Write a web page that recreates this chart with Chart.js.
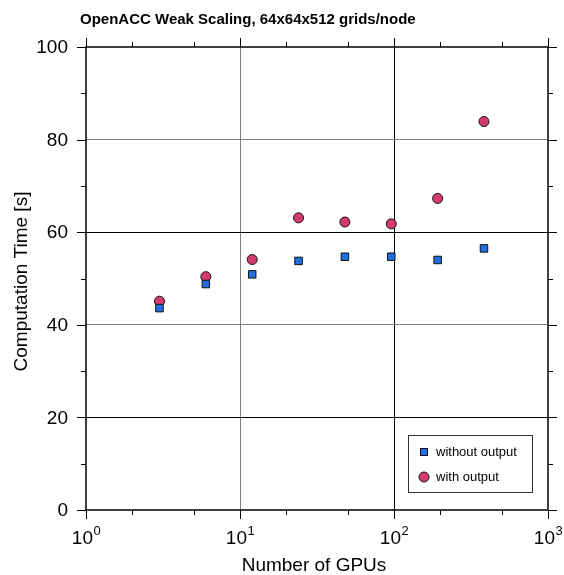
<!DOCTYPE html>
<html>
<head>
<meta charset="utf-8">
<script src="https://cdn.jsdelivr.net/npm/chart.js@4"></script>
<style>
  html, body { margin: 0; padding: 0; background: #fff; }
  #wrap { width: 564px; height: 575px; }
</style>
</head>
<body>
<div id="wrap"><canvas id="chart" width="564" height="575"></canvas></div>
<script>
'use strict';

const titleText = 'OpenACC Weak Scaling, 64x64x512 grids/node';
const xTitle = 'Number of GPUs';
const yTitle = 'Computation Time [s]';

const gpus = [3, 6, 12, 24, 48, 96, 192, 384];
const withoutOutput = [43.6, 48.8, 50.9, 53.8, 54.7, 54.7, 54.0, 56.5];
const withOutput = [45.1, 50.4, 54.1, 63.1, 62.2, 61.8, 67.3, 83.9];

const xMajor = [1, 10, 100, 1000];
const xExp = ['0', '1', '2', '3'];
const xMinor = [2, 5, 20, 50, 200, 500];
const yMajor = [0, 20, 40, 60, 80, 100];
const yMinor = [10, 30, 50, 70, 90];

const FONT = '"Liberation Sans", Arial, Helvetica, sans-serif';

// Rahmen, Ticks, Achsenbeschriftungen selbst zeichnen
const framePlugin = {
  id: 'frame',
  afterDraw(chart) {
    const { ctx, chartArea: a, scales: { x, y } } = chart;
    ctx.save();
    ctx.strokeStyle = '#000';
    ctx.lineWidth = 1.5;
    ctx.strokeRect(a.left, a.top, a.right - a.left, a.bottom - a.top);

    ctx.lineWidth = 1;
    ctx.beginPath();
    xMajor.forEach(v => {
      const px = Math.round(x.getPixelForValue(v)) + 0.5;
      ctx.moveTo(px, a.bottom); ctx.lineTo(px, a.bottom + 9);
      ctx.moveTo(px, a.top); ctx.lineTo(px, a.top - 9);
    });
    xMinor.forEach(v => {
      const px = Math.round(x.getPixelForValue(v)) + 0.5;
      ctx.moveTo(px, a.bottom); ctx.lineTo(px, a.bottom + 5);
      ctx.moveTo(px, a.top); ctx.lineTo(px, a.top - 5);
    });
    yMajor.forEach(v => {
      const py = Math.round(y.getPixelForValue(v)) + 0.5;
      ctx.moveTo(a.left, py); ctx.lineTo(a.left - 9, py);
      ctx.moveTo(a.right, py); ctx.lineTo(a.right + 9, py);
    });
    yMinor.forEach(v => {
      const py = Math.round(y.getPixelForValue(v)) + 0.5;
      ctx.moveTo(a.left, py); ctx.lineTo(a.left - 5, py);
      ctx.moveTo(a.right, py); ctx.lineTo(a.right + 5, py);
    });
    ctx.stroke();

    ctx.fillStyle = '#000';
    // y-Ticklabels
    ctx.font = '19px ' + FONT;
    ctx.textAlign = 'right';
    ctx.textBaseline = 'middle';
    yMajor.forEach(v => {
      ctx.fillText(String(v), a.left - 18, y.getPixelForValue(v) + 1);
    });

    // x-Ticklabels mit Exponent
    ctx.textBaseline = 'alphabetic';
    xMajor.forEach((v, i) => {
      const px = x.getPixelForValue(v);
      ctx.font = '19px ' + FONT;
      const w1 = ctx.measureText('10').width;
      ctx.font = '13px ' + FONT;
      const w2 = ctx.measureText(xExp[i]).width;
      const start = px - (w1 + w2) / 2;
      ctx.textAlign = 'left';
      ctx.font = '19px ' + FONT;
      ctx.fillText('10', start, a.bottom + 34);
      ctx.font = '13px ' + FONT;
      ctx.fillText(xExp[i], start + w1 + 0.5, a.bottom + 25);
    });

    // Achsentitel
    ctx.font = '19px ' + FONT;
    ctx.textAlign = 'center';
    ctx.textBaseline = 'alphabetic';
    ctx.fillText(xTitle, (a.left + a.right) / 2 - 3, a.bottom + 61);
    ctx.save();
    ctx.translate(27, (a.top + a.bottom) / 2 + 3);
    ctx.rotate(-Math.PI / 2);
    ctx.fillText(yTitle, 0, 0);
    ctx.restore();

    // Titel
    ctx.font = 'bold 15px ' + FONT;
    ctx.textAlign = 'left';
    ctx.textBaseline = 'middle';
    ctx.fillText(titleText, 80, 20);

    // Legende
    const lx = 408, ly = 435, lw = 124, lh = 57;
    ctx.fillStyle = '#fff';
    ctx.fillRect(lx, ly, lw, lh);
    ctx.strokeStyle = '#333';
    ctx.lineWidth = 1;
    ctx.strokeRect(lx + 0.5, ly + 0.5, lw, lh);
    ctx.fillStyle = '#1f6fe0';
    ctx.fillRect(420.5, 448.5, 7, 7);
    ctx.strokeStyle = '#111';
    ctx.strokeRect(420.5, 448.5, 7, 7);
    ctx.beginPath();
    ctx.arc(424, 477, 5, 0, Math.PI * 2);
    ctx.fillStyle = '#d43a6c';
    ctx.fill();
    ctx.stroke();
    ctx.fillStyle = '#000';
    ctx.font = '13px ' + FONT;
    ctx.textAlign = 'left';
    ctx.fillText('without output', 436, 452);
    ctx.fillText('with output', 436, 477);
    ctx.restore();
  }
};

const gridColorsX = { 10: '#808080', 100: '#000' };
const gridColorsY = { 20: '#000', 40: '#808080', 60: '#000', 80: '#808080' };

const ctx = document.getElementById('chart').getContext('2d');
new Chart(ctx, {
  type: 'scatter',
  data: {
    datasets: [
      {
        label: 'without output',
        data: gpus.map((g, i) => ({ x: g, y: withoutOutput[i] })),
        pointStyle: 'rect',
        pointRadius: 5.3,
        backgroundColor: '#1f6fe0',
        borderColor: '#111',
        borderWidth: 1,
      },
      {
        label: 'with output',
        data: gpus.map((g, i) => ({ x: g, y: withOutput[i] })),
        pointStyle: 'circle',
        pointRadius: 5,
        backgroundColor: '#d43a6c',
        borderColor: '#111',
        borderWidth: 1,
      },
    ],
  },
  options: {
    responsive: false,
    animation: false,
    layout: { padding: { left: 86, right: 16, top: 47, bottom: 65 } },
    plugins: {
      legend: { display: false },
      tooltip: { enabled: false },
      title: { display: false },
    },
    scales: {
      x: {
        type: 'logarithmic',
        min: 1,
        max: 1000,
        afterBuildTicks: scale => {
          scale.ticks = xMajor.map(v => ({ value: v }));
        },
        ticks: { display: false },
        border: { display: false },
        grid: {
          drawTicks: false,
          lineWidth: 1,
          color: c => gridColorsX[c.tick && c.tick.value] || 'rgba(0,0,0,0)',
        },
      },
      y: {
        min: 0,
        max: 100,
        afterBuildTicks: scale => {
          scale.ticks = yMajor.map(v => ({ value: v }));
        },
        ticks: { display: false },
        border: { display: false },
        grid: {
          drawTicks: false,
          lineWidth: 1,
          color: c => gridColorsY[c.tick && c.tick.value] || 'rgba(0,0,0,0)',
        },
      },
    },
  },
  plugins: [framePlugin],
});
</script>
</body>
</html>
